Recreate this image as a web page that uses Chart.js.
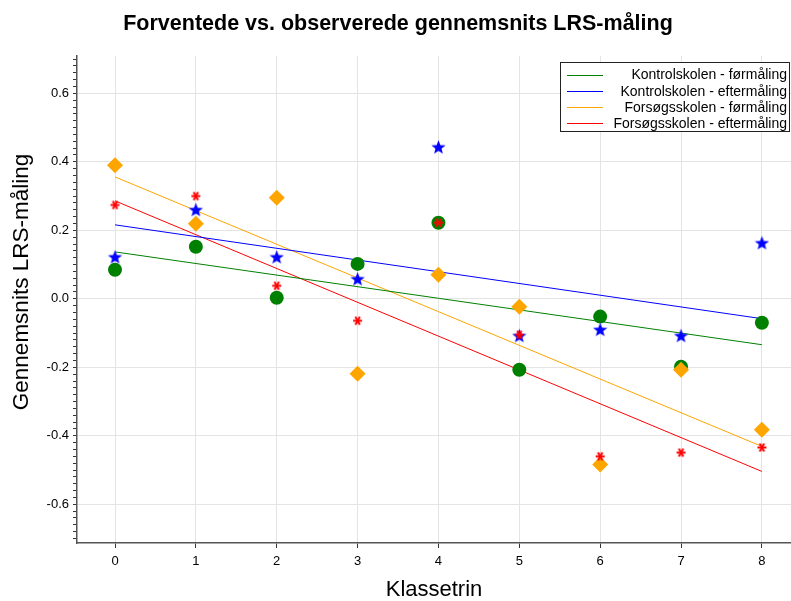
<!DOCTYPE html>
<html>
<head>
<meta charset="utf-8">
<script src="https://cdn.jsdelivr.net/npm/chart.js@4/dist/chart.umd.min.js"></script>
<style>
  html, body { margin: 0; padding: 0; background: #fff; }
  #wrap { width: 791px; height: 601px; }
</style>
</head>
<body>
<div id="wrap"><canvas id="lrsChart" width="791" height="601"></canvas></div>
<script>
// Klassetrin 0-8
const klassetrin = [0, 1, 2, 3, 4, 5, 6, 7, 8];

// observed means
const kontrolFoer   = [0.085, 0.152, 0.003, 0.102, 0.222, -0.207, -0.052, -0.198, -0.070];
const kontrolEfter  = [0.122, 0.260, 0.122, 0.058, 0.443, -0.108, -0.090, -0.108, 0.163];
const forsoegFoer   = [0.390, 0.219, 0.295, -0.219, 0.070, -0.023, -0.484, -0.207, -0.382];
const forsoegEfter  = [0.274, 0.300, 0.038, -0.064, 0.222, -0.105, -0.460, -0.449, -0.434];

// expected (fitted lines), value at klassetrin 0 and 8
const trendX            = [0, 8];
const kontrolFoerTrend  = [0.137, -0.134];
const kontrolEfterTrend = [0.216, -0.058];
const forsoegFoerTrend  = [0.356, -0.431];
const forsoegEfterTrend = [0.286, -0.504];

const seriesNames = [
    'Kontrolskolen - førmåling',
    'Kontrolskolen - eftermåling',
    'Forsøgsskolen - førmåling',
    'Forsøgsskolen - eftermåling'
];
const seriesColors = ['#008000', '#0000ff', '#ffa500', '#ff0000'];

const chartTitle = 'Forventede vs. observerede gennemsnits LRS-måling';
const xTitle = 'Klassetrin';
const yTitle = 'Gennemsnits LRS-måling';

const FONT = '"Liberation Sans", Arial, sans-serif';

// small canvases used as point markers
function makeStar(color, size) {
    const c = document.createElement('canvas');
    c.width = size; c.height = size;
    const g = c.getContext('2d');
    const cx = size / 2, cy = size / 2 + 0.5;
    const R = size / 2, r = R * 0.42;
    g.beginPath();
    for (let i = 0; i < 10; i++) {
        const rad = i % 2 === 0 ? R : r;
        const a = -Math.PI / 2 + i * Math.PI / 5;
        const px = cx + rad * Math.cos(a), py = cy + rad * Math.sin(a);
        if (i === 0) g.moveTo(px, py); else g.lineTo(px, py);
    }
    g.closePath();
    g.fillStyle = color;
    g.fill();
    return c;
}

function makeAsterisk(color, size) {
    const c = document.createElement('canvas');
    c.width = size; c.height = size;
    const g = c.getContext('2d');
    const cx = size / 2, cy = size / 2, R = size / 2 - 1;
    g.strokeStyle = color;
    g.lineWidth = 2;
    [0, 60, 120].forEach(deg => {
        const a = deg * Math.PI / 180;
        g.beginPath();
        g.moveTo(cx - R * Math.cos(a), cy - R * Math.sin(a));
        g.lineTo(cx + R * Math.cos(a), cy + R * Math.sin(a));
        g.stroke();
    });
    return c;
}

function toPoints(ys, xs) {
    return ys.map((y, i) => ({ x: xs[i], y: y }));
}

const isMajor = v => Math.abs(v * 5 - Math.round(v * 5)) < 1e-6;

// title, y-axis title and legend box drawn on the canvas
const decorPlugin = {
    id: 'decor',
    afterDraw(chart) {
        const ctx = chart.ctx;
        ctx.save();
        ctx.fillStyle = '#000';
        ctx.font = 'bold 21.5px ' + FONT;
        ctx.textAlign = 'center';
        ctx.textBaseline = 'middle';
        ctx.fillText(chartTitle, 398, 24);

        // y axis title
        ctx.save();
        ctx.translate(22, 282);
        ctx.rotate(-Math.PI / 2);
        ctx.font = '22.5px ' + FONT;
        ctx.fillText(yTitle, 0, 0);
        ctx.restore();

        // legend
        const bx = 560, by = 62, bw = 229, bh = 69;
        ctx.fillStyle = '#fff';
        ctx.fillRect(bx, by, bw, bh);
        ctx.strokeStyle = '#222';
        ctx.lineWidth = 1;
        ctx.strokeRect(bx + 0.5, by + 0.5, bw, bh);
        ctx.font = '14px ' + FONT;
        ctx.textAlign = 'right';
        seriesNames.forEach((name, i) => {
            const yy = 74.5 + i * 16.2;
            ctx.strokeStyle = seriesColors[i];
            ctx.lineWidth = 1.2;
            ctx.beginPath();
            ctx.moveTo(567, Math.round(yy) + 0.5);
            ctx.lineTo(603, Math.round(yy) + 0.5);
            ctx.stroke();
            ctx.fillStyle = '#000';
            ctx.fillText(name, 787, yy + 1);
        });
        ctx.restore();
    }
};

const markers = [
    { style: 'circle', radius: 7 },
    { style: makeStar('#0000ff', 15), radius: 7 },
    { style: 'rectRot', radius: 8 },
    { style: makeAsterisk('#ff0000', 11), radius: 6 }
];
const observed = [kontrolFoer, kontrolEfter, forsoegFoer, forsoegEfter];
const trends = [kontrolFoerTrend, kontrolEfterTrend, forsoegFoerTrend, forsoegEfterTrend];
// drawing order: red on top, then orange, blue, green
const pointOrder = [4, 3, 2, 1];

const datasets = [];
observed.forEach((vals, i) => {
    datasets.push({
        label: seriesNames[i],
        data: toPoints(vals, klassetrin),
        showLine: false,
        pointStyle: markers[i].style,
        pointRadius: markers[i].radius,
        backgroundColor: seriesColors[i],
        borderColor: seriesColors[i],
        borderWidth: 0,
        order: pointOrder[i]
    });
});
trends.forEach((vals, i) => {
    datasets.push({
        label: seriesNames[i] + ' (trend)',
        data: toPoints(vals, trendX),
        showLine: true,
        pointRadius: 0,
        borderColor: seriesColors[i],
        borderWidth: 1,
        fill: false,
        order: 10
    });
});

const ctx = document.getElementById('lrsChart').getContext('2d');
new Chart(ctx, {
    type: 'scatter',
    data: { datasets: datasets },
    options: {
        responsive: false,
        animation: false,
        layout: { autoPadding: false, padding: { top: 56, right: 0, bottom: 0, left: 0 } },
        plugins: {
            legend: { display: false },
            title: { display: false },
            tooltip: { enabled: false }
        },
        scales: {
            x: {
                type: 'linear',
                min: -0.47,
                max: 8.36,
                afterFit(scale) {
                    scale.height = 58;
                    scale.paddingLeft = 0;
                    scale.paddingRight = 0;
                },
                border: { color: '#555', width: 1.5 },
                grid: { color: '#e4e4e4', tickColor: '#333', tickLength: 5 },
                ticks: {
                    stepSize: 1,
                    includeBounds: false,
                    padding: 6,
                    color: '#000',
                    font: { size: 13, family: FONT }
                },
                title: {
                    display: true,
                    text: xTitle,
                    color: '#000',
                    padding: { top: 0, bottom: 0 },
                    font: { size: 22, lineHeight: 1, family: FONT }
                }
            },
            y: {
                type: 'linear',
                min: -0.713,
                max: 0.709,
                afterFit(scale) {
                    scale.width = 77;
                    scale.paddingTop = 0;
                    scale.paddingBottom = 0;
                },
                border: { color: '#555', width: 1.5 },
                grid: {
                    color: c => (c.tick && isMajor(c.tick.value)) ? '#e4e4e4' : 'rgba(0,0,0,0)',
                    tickColor: '#333',
                    tickLength: 4
                },
                ticks: {
                    stepSize: 0.02,
                    includeBounds: false,
                    autoSkip: false,
                    padding: 4,
                    color: '#000',
                    font: { size: 13, family: FONT },
                    callback: v => isMajor(v) ? v.toFixed(1) : ''
                },
                title: { display: false }
            }
        }
    },
    plugins: [decorPlugin]
});
</script>
</body>
</html>
